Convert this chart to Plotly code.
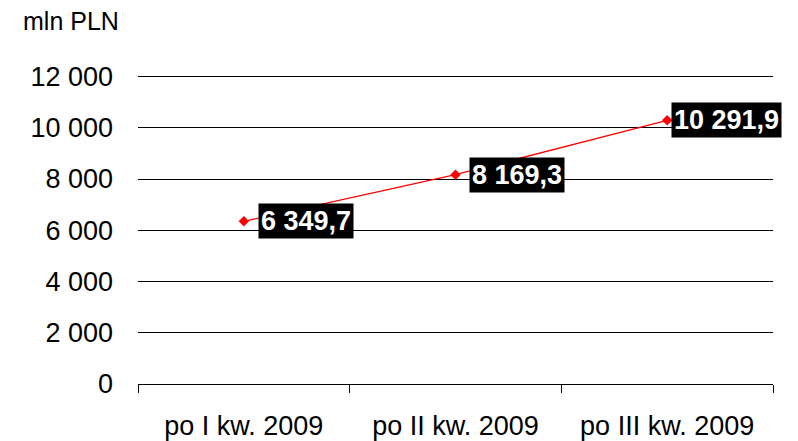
import plotly.graph_objects as go

# data
categories = ["po I kw. 2009", "po II kw. 2009", "po III kw. 2009"]
values = [6349.7, 8169.3, 10291.9]
y_ticks = [0, 2000, 4000, 6000, 8000, 10000, 12000]
y_tick_labels = ["0", "2 000", "4 000", "6 000", "8 000", "10 000", "12 000"]

# horizontal offset of each data label from its point (px)
label_shifts = [14, 13, 4]


def pl_format(v):
    # polish style: space thousands separator, comma decimal
    return f"{v:,.1f}".replace(",", " ").replace(".", ",")


fig = go.Figure()

fig.add_trace(go.Scatter(
    x=categories,
    y=values,
    mode="lines+markers",
    line=dict(color="#ff0000", width=1.3),
    marker=dict(symbol="diamond", size=8, color="#ff0000"),
    showlegend=False
))

# data labels on black boxes
for cat, v, dx in zip(categories, values, label_shifts):
    fig.add_annotation(
        x=cat, y=v,
        text=pl_format(v),
        showarrow=False,
        xanchor="left",
        yanchor="middle",
        xshift=dx,
        bgcolor="black",
        borderpad=2,
        font=dict(family="Liberation Sans, Arial", size=27, color="white", weight="bold")
    )

fig.add_annotation(
    x=0, y=1, xref="paper", yref="paper",
    text="mln PLN",
    showarrow=False,
    xanchor="left", yanchor="middle",
    xshift=-117, yshift=53,
    font=dict(family="Liberation Sans, Arial", size=25, color="black")
)

fig.update_layout(
    width=798,
    height=441,
    margin=dict(l=130, r=33, t=66, b=65),
    plot_bgcolor="white",
    paper_bgcolor="white",
    font=dict(family="Liberation Sans, Arial", size=27, color="black"),
)

fig.update_xaxes(
    range=[-0.5, 2.5],
    automargin=False,
    showgrid=False,
    showline=True,
    linecolor="black",
    linewidth=1,
    ticks="outside",
    tickson="boundaries",
    ticklen=8,
    tickcolor="black",
    ticklabelstandoff=18,
    tickfont=dict(size=27),
)

fig.update_yaxes(
    range=[0, 12100],
    automargin=False,
    tickvals=y_ticks,
    ticktext=y_tick_labels,
    showgrid=True,
    gridcolor="black",
    gridwidth=1,
    zeroline=False,
    showline=False,
    ticklabelstandoff=24,
    tickfont=dict(size=27),
)

fig.write_html("out.html")
